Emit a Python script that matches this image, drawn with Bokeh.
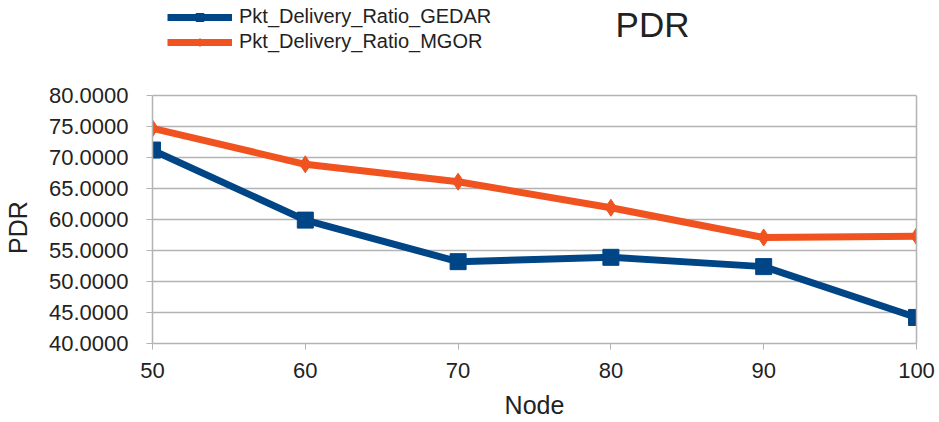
from bokeh.plotting import figure
from bokeh.models import (ColumnDataSource, Legend, LegendItem, Label, NumeralTickFormatter,
                          FixedTicker, Range1d, LinearAxis)
from bokeh.embed import file_html
from bokeh.resources import INLINE

nodes = [50, 60, 70, 80, 90, 100]
pdr_gedar = [71.2, 59.9, 53.2, 53.9, 52.4, 44.2]
pdr_mgor = [74.7, 68.9, 66.1, 61.9, 57.1, 57.3]
x_ticks = [50, 60, 70, 80, 90, 100]
y_ticks = [40, 45, 50, 55, 60, 65, 70, 75, 80]

BLUE = "#004586"
ORANGE = "#f0531f"
GRID = "#b3b3b3"
TXT = "#222222"
FONT = "Liberation Sans"

W, H = 939, 422
FL, FR, FB = 151, 916, 343          # frame left/right/bottom in canvas px
Y80 = 95                             # canvas y of the top value (80)
y_lo, y_hi = y_ticks[0], y_ticks[-1]
y_top = y_lo + (y_hi - y_lo) * FB / (FB - Y80)

src = ColumnDataSource(dict(x=nodes, g=pdr_gedar, m=pdr_mgor))

p = figure(width=W, height=H, output_backend="svg", toolbar_location=None,
           x_range=Range1d(x_ticks[0], x_ticks[-1]), y_range=Range1d(y_lo, y_top),
           min_border_left=FL, min_border_right=W - FR, min_border_top=0,
           min_border_bottom=H - FB)
p.outline_line_color = None
p.background_fill_color = "white"
p.border_fill_color = "white"

lg = p.line("x", "g", source=src, line_color=BLUE, line_width=7)
mg = p.scatter("x", "g", source=src, marker="square", size=16, fill_color=BLUE, line_color=BLUE)
lm = p.line("x", "m", source=src, line_color=ORANGE, line_width=7)
mm = p.scatter("x", "m", source=src, marker="diamond", size=17, fill_color=ORANGE, line_color=ORANGE)

for ax in (p.xaxis[0], p.yaxis[0]):
    ax.axis_line_color = GRID
    ax.axis_line_width = 1.5
    ax.major_tick_line_color = GRID
    ax.minor_tick_line_color = None
    ax.major_tick_out = 6
    ax.major_tick_in = 0
    ax.major_label_text_font = FONT
    ax.major_label_text_font_size = "22px"
    ax.major_label_text_color = TXT
    ax.axis_label_text_font = FONT
    ax.axis_label_text_font_style = "normal"
    ax.axis_label_text_color = TXT
    ax.axis_label_text_font_size = "25px"

p.xaxis.ticker = FixedTicker(ticks=x_ticks)
p.yaxis.ticker = FixedTicker(ticks=y_ticks)
p.yaxis.bounds = (y_lo, y_hi)
p.yaxis.formatter = NumeralTickFormatter(format="0.0000")
p.xaxis.axis_label = "Node"
# trailing no-break spaces centre the label on the plotted 40-80 band
p.yaxis.axis_label = "PDR" + "\u00a0" * 16
p.xaxis.major_label_standoff = 13
p.xaxis.axis_label_standoff = 10
p.yaxis.major_label_standoff = 18
p.yaxis.axis_label_standoff = 14

# right border of the plot area
rax = LinearAxis(bounds=(y_lo, y_hi), axis_line_color=GRID, axis_line_width=1.5,
                 major_tick_line_color=None, minor_tick_line_color=None,
                 major_label_text_font_size="0px", major_label_standoff=0,
                 major_tick_out=0, major_tick_in=0, ticker=FixedTicker(ticks=[]))
p.add_layout(rax, "right")

p.xgrid.grid_line_color = None
p.ygrid.grid_line_color = GRID
p.ygrid.grid_line_width = 1.5

legend = Legend(items=[LegendItem(label="Pkt_Delivery_Ratio_GEDAR", renderers=[lg, mg]),
                       LegendItem(label="Pkt_Delivery_Ratio_MGOR", renderers=[lm, mm])],
                location=(15, 290), orientation="vertical",
                glyph_width=65, glyph_height=20, label_height=20, spacing=2,
                padding=0, margin=0, border_line_color=None, background_fill_alpha=0,
                label_text_font=FONT, label_text_font_size="20px", label_text_color=TXT,
                label_standoff=7)
p.add_layout(legend, "center")

title = Label(x=500, y=319, x_units="screen", y_units="screen", text="PDR",
              text_font=FONT, text_font_size="35px", text_color=TXT,
              text_align="center", text_baseline="middle")
p.add_layout(title)

open("out.html", "w").write(file_html(p, INLINE))
